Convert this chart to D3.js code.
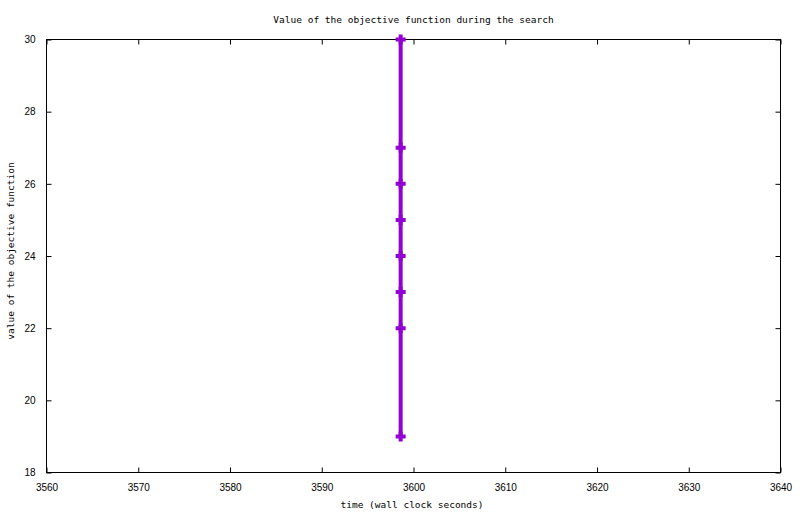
<!DOCTYPE html>
<html>
<head>
<meta charset="utf-8">
<script src="https://cdn.jsdelivr.net/npm/d3@7"></script>
<style>
  body { margin: 0; background: #fff; }
  svg { display: block; }
  .mono { font-family: "DejaVu Sans Mono", monospace; font-size: 9.5px; }
  .tick text { font-family: "Liberation Sans", Arial, sans-serif; font-size: 10px; fill: #000; }
</style>
</head>
<body>
<script>
// objective value samples (time in wall clock seconds)
var times  = [3598.6, 3598.6, 3598.6, 3598.6, 3598.6, 3598.6, 3598.6, 3598.6];
var values = [30, 27, 26, 25, 24, 23, 22, 19];
var xTicks = [3560, 3570, 3580, 3590, 3600, 3610, 3620, 3630, 3640];
var yTicks = [18, 20, 22, 24, 26, 28, 30];

var W = 800, H = 514;
var plotL = 46.5, plotR = 780.5, plotT = 39.5, plotB = 472.5;

var svg = d3.select("body").append("svg")
            .attr("width", W)
            .attr("height", H);

var x = d3.scaleLinear().domain([3560, 3640]).range([plotL, plotR]);
var y = d3.scaleLinear().domain([18, 30]).range([plotB, plotT]);

// axes, ticks pointing inwards like gnuplot
function styleAxis(g) {
  g.select(".domain").remove();
  g.selectAll(".tick line").attr("stroke", "#000");
}

svg.append("g")
   .attr("transform", "translate(0," + plotB + ")")
   .call(d3.axisBottom(x).tickValues(xTicks).tickSize(-5).tickPadding(11).tickFormat(d3.format("d")))
   .call(styleAxis);

svg.append("g")
   .attr("transform", "translate(0," + plotT + ")")
   .call(d3.axisTop(x).tickValues(xTicks).tickSize(-5).tickFormat(""))
   .call(styleAxis);

svg.append("g")
   .attr("transform", "translate(" + plotL + ",0)")
   .call(d3.axisLeft(y).tickValues(yTicks).tickSize(-5).tickPadding(11).tickFormat(d3.format("d")))
   .call(styleAxis);

svg.append("g")
   .attr("transform", "translate(" + plotR + ",0)")
   .call(d3.axisRight(y).tickValues(yTicks).tickSize(-5).tickFormat(""))
   .call(styleAxis);

// border
svg.append("rect")
   .attr("x", plotL).attr("y", plotT)
   .attr("width", plotR - plotL).attr("height", plotB - plotT)
   .attr("fill", "none")
   .attr("stroke", "#000")
   .attr("stroke-width", 1);

// data line
var pts = values.map(function (v, i) { return [times[i], v]; });
var line = d3.line().x(function (d) { return x(d[0]); }).y(function (d) { return y(d[1]); });

svg.append("path")
   .datum(pts)
   .attr("d", line)
   .attr("fill", "none")
   .attr("stroke", "#9400d3")
   .attr("stroke-width", 4);

// "+" point markers
svg.selectAll(".pt")
   .data(pts)
   .enter()
   .append("path")
   .attr("class", "pt")
   .attr("d", "M-5,0H5M0,-5V5")
   .attr("transform", function (d) { return "translate(" + x(d[0]) + "," + y(d[1]) + ")"; })
   .attr("stroke", "#9400d3")
   .attr("stroke-width", 4)
   .attr("fill", "none");

// texts
svg.append("text")
   .attr("class", "mono")
   .attr("x", (plotL + plotR) / 2)
   .attr("y", 23)
   .attr("text-anchor", "middle")
   .text("Value of the objective function during the search");

svg.append("text")
   .attr("class", "mono")
   .attr("x", 412)
   .attr("y", 508)
   .attr("text-anchor", "middle")
   .text("time (wall clock seconds)");

svg.append("text")
   .attr("class", "mono")
   .attr("text-anchor", "middle")
   .attr("transform", "translate(14,251) rotate(-90)")
   .text("value of the objective function");
</script>
</body>
</html>
